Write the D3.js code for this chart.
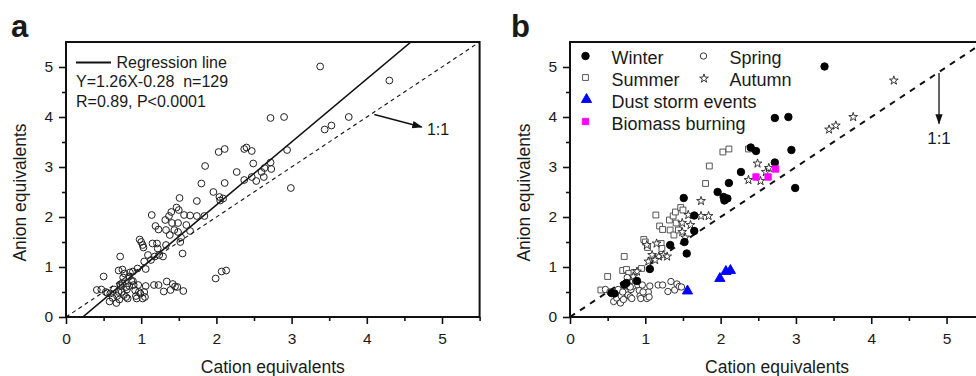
<!DOCTYPE html>
<html>
<head>
<meta charset="utf-8">
<script src="https://cdn.jsdelivr.net/npm/d3@7"></script>
<style>
  body { margin: 0; background: #fff; }
  svg { display: block; font-family: "Liberation Sans", Arial, sans-serif; }
  text { fill: #1a1a1a; }
</style>
</head>
<body>
<svg id="chart" width="976" height="376"></svg>
<script>
// cation vs anion equivalents
var winter = [[3.38,5.01],[2.72,3.98],[2.90,4.00],[2.40,3.39],[2.47,3.32],[2.94,3.34],[2.72,3.09],
  [2.27,2.90],[2.11,2.68],[1.96,2.50],[2.04,2.40],[2.05,2.33],[2.09,2.37],[2.99,2.58],[1.51,2.38],
  [1.65,2.03],[1.65,1.72],[1.52,1.50],[1.33,1.44],[1.55,1.27],[1.06,0.96],[0.89,0.72],[0.75,0.68],
  [0.72,0.65],[0.55,0.48],[0.59,0.47]];
var spring = [[0.47,0.55],[0.53,0.50],[0.58,0.31],[0.62,0.38],[0.64,0.55],[0.67,0.28],[0.68,0.42],
  [0.71,0.35],[0.73,0.62],[0.74,0.50],[0.77,0.44],[0.80,0.40],[0.81,0.55],[0.82,0.37],[0.84,0.62],
  [0.87,0.72],[0.90,0.64],[0.92,0.53],[0.93,0.42],[0.94,0.37],[0.96,0.64],[0.99,0.47],[1.02,0.37],
  [1.04,0.50],[1.06,0.62],[1.05,0.40],[1.17,0.64],[1.23,0.64],[1.30,0.51],[1.34,0.71],[1.39,0.54],
  [1.42,0.66],[1.45,0.61],[1.48,0.60],[0.76,0.79],[0.80,0.60],[0.70,0.50],[0.97,0.50]];
var summer = [[0.41,0.54],[0.50,0.81],[0.72,1.21],[0.70,0.93],[0.75,0.95],[0.78,0.87],[0.85,0.89],
  [0.95,0.97],[0.98,1.55],[1.00,1.50],[1.03,1.39],[1.14,2.04],[1.19,1.82],[1.23,1.75],[1.21,1.47],
  [1.22,1.37],[1.33,1.74],[1.32,1.94],[1.37,2.02],[1.40,2.10],[1.41,1.88],[1.38,1.64],[1.44,1.74],
  [1.47,2.19],[1.50,2.14],[1.80,2.67],[1.85,3.02],[2.03,3.30],[2.11,3.36],[2.37,3.36]];
var autumn = [[4.30,4.73],[3.76,4.00],[3.44,3.75],[3.53,3.83],[2.49,3.07],[2.37,2.74],[2.53,2.72],
  [2.60,2.90],[2.64,2.98],[1.74,2.32],[1.57,2.04],[1.74,2.02],[1.84,2.02],[1.49,1.88],[1.60,1.84],
  [1.49,1.70],[1.53,1.59],[1.02,1.44],[1.15,1.47],[1.09,1.24],[1.18,1.21],[1.24,1.24],[1.29,1.21],
  [1.04,1.11],[1.13,1.14],[0.89,0.91],[0.84,0.81]];
var dust = [[1.56,0.52],[1.99,0.77],[2.07,0.91],[2.13,0.93]];
var biomass = [[2.47,2.80],[2.63,2.80],[2.73,2.96]];

var slope = 1.26, intercept = -0.28;
var majorTicks = [0, 1, 2, 3, 4, 5];
var minorTicks = [0.5, 1.5, 2.5, 3.5, 4.5, 5.5];

var allPoints = [].concat(winter, spring, summer, autumn, dust, biomass);

var svg = d3.select("#chart");
var yScale = d3.scaleLinear().domain([0, 5.5]).range([317, 42]);
var xa = d3.scaleLinear().domain([0, 5.5]).range([66, 479.6]);
var xb = d3.scaleLinear().domain([0, 5.5]).range([570, 984.2]);

function frame(x, y, label, lx, clipId) {
    var g = svg.append("g");
    let x0 = x.range()[0], x1 = x.range()[1], y0 = y.range()[0], y1 = y.range()[1];

    g.append("clipPath").attr("id", clipId)
        .append("rect").attr("x", x0).attr("y", y1).attr("width", x1 - x0).attr("height", y0 - y1);

    // minor + major ticks
    g.append("g").attr("transform", `translate(0,${y0})`)
        .call(d3.axisBottom(x).tickValues(minorTicks).tickSize(4).tickFormat(""));
    g.append("g").attr("transform", `translate(0,${y0})`)
        .call(d3.axisBottom(x).tickValues(majorTicks).tickSize(7).tickPadding(8.5).tickFormat(d3.format("d")));
    g.append("g").attr("transform", `translate(${x0},0)`)
        .call(d3.axisLeft(y).tickValues(minorTicks.slice(0, 5)).tickSize(4).tickFormat(""));
    g.append("g").attr("transform", `translate(${x0},0)`)
        .call(d3.axisLeft(y).tickValues(majorTicks).tickSize(7).tickPadding(6).tickFormat(d3.format("d")));
    g.selectAll(".domain").remove();
    g.selectAll(".tick line").attr("stroke", "#111").attr("stroke-width", 1.6);
    g.selectAll(".tick text").attr("font-size", 15.5).attr("fill", "#1a1a1a")
        .attr("font-family", "Liberation Sans, Arial, sans-serif");

    // box
    g.append("path")
        .attr("d", `M${x0},${y1}V${y0}H${x1}V${y1}Z`)
        .attr("fill", "none").attr("stroke", "#111").attr("stroke-width", 2);

    g.append("text").attr("x", (x0 + x1) / 2).attr("y", 373)
        .attr("text-anchor", "middle").attr("font-size", 17.5).text("Cation equivalents");
    g.append("text").attr("transform", `translate(${x0 - 40},192.5) rotate(-90)`)
        .attr("text-anchor", "middle").attr("font-size", 17.5).text("Anion equivalents");
    g.append("text").attr("x", lx).attr("y", 37)
        .attr("font-size", 31).attr("font-weight", "bold").attr("fill", "#000").text(label);
    return g;
}

svg.append("defs").append("marker")
    .attr("id", "arrow").attr("viewBox", "0 0 10 10").attr("refX", 9).attr("refY", 5)
    .attr("markerWidth", 8).attr("markerHeight", 8).attr("orient", "auto-start-reverse")
    .append("path").attr("d", "M0,1.5L10,5L0,8.5Z").attr("fill", "#111");

// ---------- panel a ----------
var ga = frame(xa, yScale, "a", 11, "clipA");
var plotA = ga.append("g").attr("clip-path", "url(#clipA)");

plotA.append("line")
    .attr("x1", xa(0)).attr("y1", yScale(0)).attr("x2", xa(5.5)).attr("y2", yScale(5.5))
    .attr("stroke", "#111").attr("stroke-width", 1.1).attr("stroke-dasharray", "4,3.5");
plotA.append("line")
    .attr("x1", xa(-intercept / slope)).attr("y1", yScale(0))
    .attr("x2", xa((5.5 - intercept) / slope)).attr("y2", yScale(5.5))
    .attr("stroke", "#111").attr("stroke-width", 1.6);

plotA.selectAll("circle.pt").data(allPoints).enter().append("circle")
    .attr("class", "pt")
    .attr("cx", d => xa(d[0])).attr("cy", d => yScale(d[1])).attr("r", 3.4)
    .attr("fill", "none").attr("stroke", "#222").attr("stroke-width", 1);

ga.append("line")
    .attr("x1", xa(4.10)).attr("y1", yScale(4.05)).attr("x2", xa(4.73)).attr("y2", yScale(3.80))
    .attr("stroke", "#111").attr("stroke-width", 1.3).attr("marker-end", "url(#arrow)");
ga.append("text").attr("x", xa(4.8)).attr("y", yScale(3.64)).attr("font-size", 16).text("1:1");

ga.append("line").attr("x1", 76).attr("x2", 111).attr("y1", 62.5).attr("y2", 62.5)
    .attr("stroke", "#111").attr("stroke-width", 2);
ga.append("text").attr("x", 116.5).attr("y", 67.5).attr("font-size", 16).text("Regression line");
ga.append("text").attr("x", 76).attr("y", 87).attr("font-size", 16).attr("xml:space", "preserve")
    .text("Y=1.26X-0.28  n=129");
ga.append("text").attr("x", 76).attr("y", 106.5).attr("font-size", 16).text("R=0.89, P<0.0001");

// ---------- panel b ----------
var gb = frame(xb, yScale, "b", 511, "clipB");
var plotB = gb.append("g").attr("clip-path", "url(#clipB)");

plotB.append("line")
    .attr("x1", xb(0)).attr("y1", yScale(0)).attr("x2", xb(5.5)).attr("y2", yScale(5.5))
    .attr("stroke", "#111").attr("stroke-width", 2).attr("stroke-dasharray", "6,6");

var starR = 4.6, ka = 0.8908130915292852;
var series = [
    {name: "Summer", data: summer, type: d3.symbolSquare, size: 34, fill: "#fff", stroke: "#444"},
    {name: "Spring", data: spring, type: d3.symbolCircle, size: 32, fill: "#fff", stroke: "#222"},
    {name: "Autumn", data: autumn, type: d3.symbolStar, size: starR * starR / ka, fill: "#fff", stroke: "#222"},
    {name: "Winter", data: winter, type: d3.symbolCircle, size: 44, fill: "#000", stroke: "#000"},
    {name: "Dust storm events", data: dust, type: d3.symbolTriangle, size: 46, fill: "#0000ff", stroke: "#0000ff"},
    {name: "Biomass burning", data: biomass, type: d3.symbolSquare, size: 40, fill: "#ff00ff", stroke: "#ff00ff"}
];

series.forEach(function (s) {
    plotB.append("g").selectAll("path").data(s.data).enter().append("path")
        .attr("d", d3.symbol().type(s.type).size(s.size))
        .attr("transform", d => `translate(${xb(d[0])},${yScale(d[1])})`)
        .attr("fill", s.fill).attr("stroke", s.stroke).attr("stroke-width", 0.9);
});

gb.append("line")
    .attr("x1", xb(4.9)).attr("y1", yScale(4.88)).attr("x2", xb(4.9)).attr("y2", yScale(3.87))
    .attr("stroke", "#111").attr("stroke-width", 1.3).attr("marker-end", "url(#arrow)");
gb.append("text").attr("x", xb(4.9)).attr("y", yScale(3.47)).attr("text-anchor", "middle")
    .attr("font-size", 17).text("1:1");

// legend
var legendItems = [
    {s: series[3], x: 585.5, y: 56, tx: 611.5, ty: 63.5},
    {s: series[1], x: 703.5, y: 56, tx: 729.5, ty: 63.5},
    {s: series[0], x: 585.5, y: 77.5, tx: 611.5, ty: 85.5},
    {s: series[2], x: 704, y: 78.5, tx: 729.5, ty: 85.5},
    {s: series[4], x: 586.5, y: 99.5, tx: 611.5, ty: 107.5},
    {s: series[5], x: 585.5, y: 121.5, tx: 611.5, ty: 129.5}
];
var leg = gb.append("g");
leg.selectAll("path").data(legendItems).enter().append("path")
    .attr("d", d => d3.symbol().type(d.s.type).size(d.s.size)())
    .attr("transform", d => `translate(${d.x},${d.y})`)
    .attr("fill", d => d.s.fill).attr("stroke", d => d.s.stroke).attr("stroke-width", 0.9);
leg.selectAll("text").data(legendItems).enter().append("text")
    .attr("x", d => d.tx).attr("y", d => d.ty).attr("font-size", 18).text(d => d.s.name);
</script>
</body>
</html>
